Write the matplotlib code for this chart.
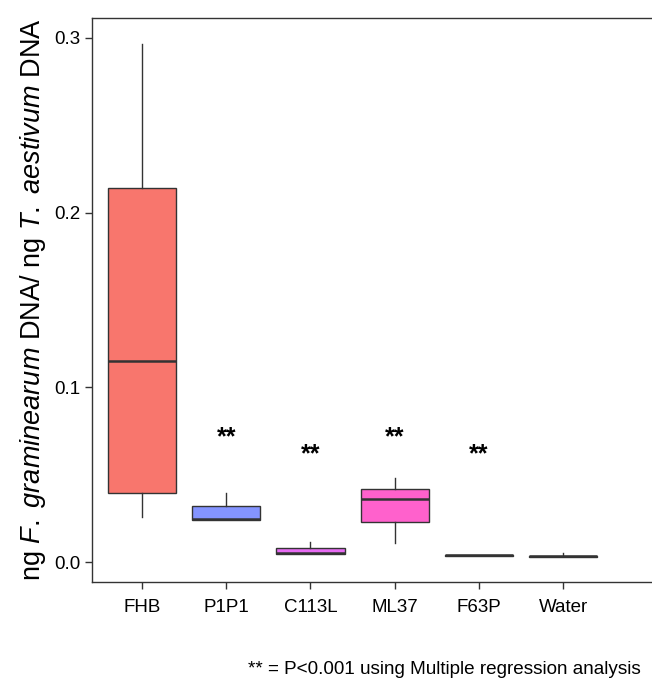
import matplotlib
matplotlib.use("Agg")
from matplotlib import pyplot as plt

plt.rcParams["font.family"] = ["Liberation Sans", "DejaVu Sans"]
plt.rcParams["mathtext.fontset"] = "custom"
plt.rcParams["mathtext.rm"] = "Liberation Sans"
plt.rcParams["mathtext.it"] = "Liberation Sans:italic"

# box statistics
groups = ["FHB", "P1P1", "C113L", "ML37", "F63P", "Water"]
whis_lo = [0.0258, 0.024, 0.0046, 0.0107, 0.0035, 0.0030]
q1 = [0.0395, 0.024, 0.0046, 0.0230, 0.0035, 0.0030]
medians = [0.115, 0.0245, 0.0050, 0.0362, 0.0040, 0.0034]
q3 = [0.214, 0.032, 0.0078, 0.0418, 0.0042, 0.0037]
whis_hi = [0.2965, 0.0397, 0.0116, 0.0479, 0.0042, 0.0050]
colors = ["#F8766D", "#8494FF", "#E76BF3", "#FF61CC", "#00BA38", "#00BFC4"]

star_groups = ["P1P1", "C113L", "ML37", "F63P"]
star_y = [0.0715, 0.0615, 0.0715, 0.0615]

fig = plt.figure(figsize=(6.52, 6.8), dpi=100)
ax = fig.add_axes([0.1411, 0.1441, 0.871, 0.8294])

stats = []
for i, g in enumerate(groups):
    stats.append(dict(label=g, whislo=whis_lo[i], q1=q1[i], med=medians[i],
                      q3=q3[i], whishi=whis_hi[i]))

edge = "#333333"
bp = ax.bxp(stats, positions=range(1, 7), widths=0.81, showfliers=False,
            showcaps=False, patch_artist=True,
            boxprops=dict(edgecolor=edge, linewidth=1.0),
            medianprops=dict(color=edge, linewidth=1.8),
            whiskerprops=dict(color=edge, linewidth=1.0))
for patch, c in zip(bp["boxes"], colors):
    patch.set_facecolor(c)

for g, y in zip(star_groups, star_y):
    ax.text(groups.index(g) + 1, y, "**", ha="center", va="center",
            fontsize=18, fontweight="bold")

ax.set_xlim(0.406, 7.15)
ax.set_ylim(-0.01145, 0.3114)
ax.set_yticks([0.0, 0.1, 0.2, 0.3])
ax.set_yticklabels(["0.0", "0.1", "0.2", "0.3"])
ax.tick_params(labelsize=13.5, colors="#333333", length=5, width=1.0,
               labelcolor="black")
ax.tick_params(axis="x", pad=7)
for s in ax.spines.values():
    s.set_color("#333333")
    s.set_linewidth(1.0)

ax.set_ylabel(r"ng $\it{F.}$ $\it{graminearum}$ DNA/ ng $\it{T.}$ $\it{aestivum}$ DNA",
              fontsize=19.5, labelpad=4)

fig.text(0.38, 0.009, "** = P<0.001 using Multiple regression analysis", fontsize=13.6)

plt.savefig("out.png", dpi=100)
